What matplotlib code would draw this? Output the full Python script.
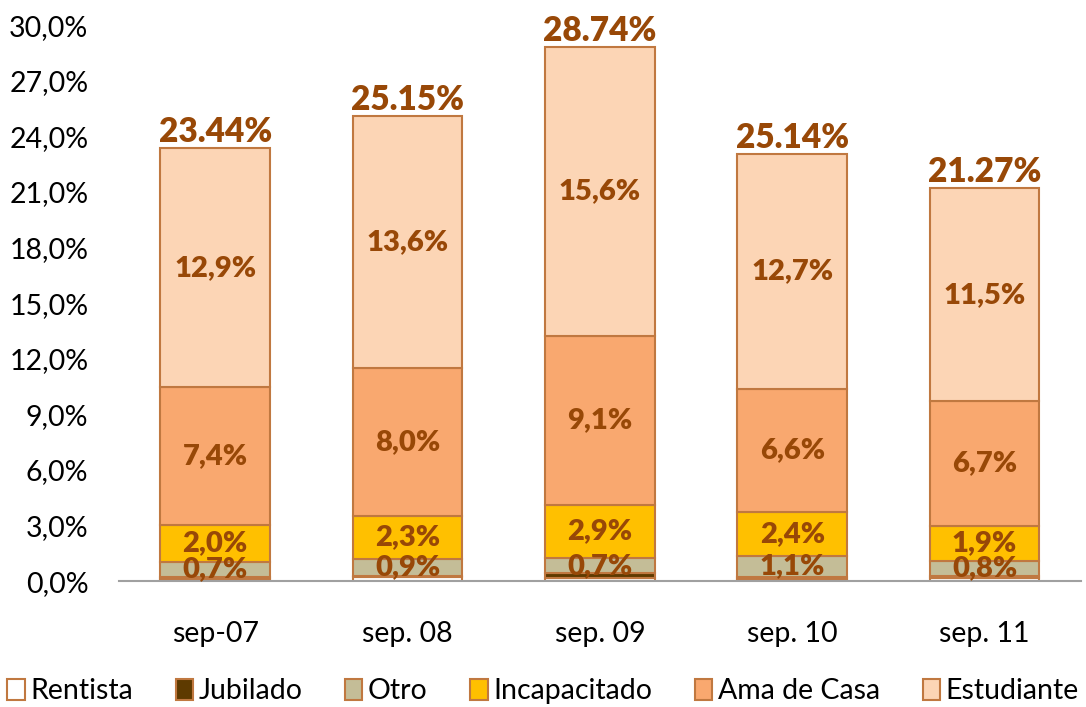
import matplotlib
matplotlib.use("Agg")
import matplotlib.pyplot as plt
import numpy as np

categories = ["sep-07", "sep. 08", "sep. 09", "sep. 10", "sep. 11"]
rentista = [0.10, 0.20, 0.15, 0.10, 0.15]
jubilado = [0.15, 0.10, 0.28, 0.15, 0.15]
otro = [0.8, 0.9, 0.8, 1.1, 0.8]
incapacitado = [2.0, 2.3, 2.9, 2.4, 1.9]
ama_de_casa = [7.4, 8.0, 9.1, 6.6, 6.7]
estudiante = [12.9, 13.6, 15.6, 12.7, 11.5]
otro_labels = ["0,7%", "0,9%", "0,7%", "1,1%", "0,8%"]
incap_labels = ["2,0%", "2,3%", "2,9%", "2,4%", "1,9%"]
ama_labels = ["7,4%", "8,0%", "9,1%", "6,6%", "6,7%"]
est_labels = ["12,9%", "13,6%", "15,6%", "12,7%", "11,5%"]
total_labels = ["23.44%", "25.15%", "28.74%", "25.14%", "21.27%"]
yticks = [0, 3, 6, 9, 12, 15, 18, 21, 24, 27, 30]

series = [
    ("Rentista", rentista, "#FFFFFF", None),
    ("Jubilado", jubilado, "#5E3A00", None),
    ("Otro", otro, "#C4BD97", otro_labels),
    ("Incapacitado", incapacitado, "#FFC000", incap_labels),
    ("Ama de Casa", ama_de_casa, "#F9A86F", ama_labels),
    ("Estudiante", estudiante, "#FCD5B5", est_labels),
]

plt.rcParams['font.family'] = ['Lato', 'DejaVu Sans']
label_color = "#984807"
edge_color = "#C07840"

fig = plt.figure(figsize=(10.86, 7.07), dpi=100)
ax = fig.add_axes([0.1096, 0.178, 0.8856, 0.7865])
x = np.arange(len(categories))
bottom = np.zeros(len(categories))
handles = []
for name, vals, color, labels in series:
    vals = np.array(vals)
    b = ax.bar(x, vals, width=0.57, bottom=bottom, color=color,
               edgecolor=edge_color, linewidth=1.5, label=name)
    handles.append(b)
    if labels is not None:
        for i in range(len(x)):
            ax.text(x[i], bottom[i] + vals[i] / 2, labels[i], ha='center', va='center',
                    fontsize=21, fontweight='heavy', color=label_color)
    bottom = bottom + vals

for i in range(len(x)):
    ax.text(x[i], bottom[i] + 0.0, total_labels[i], ha='center', va='bottom',
            fontsize=24, fontweight='heavy', color=label_color)

ax.set_xlim(-0.5, len(categories) - 0.5)
ax.set_ylim(0, 30)
ax.set_yticks(yticks)
ax.set_yticklabels([f"{v:.1f}%".replace('.', ',') for v in yticks], fontsize=20.5)
ax.set_xticks(x)
ax.set_xticklabels(categories, fontsize=20.5)
ax.tick_params(axis='both', length=0)
ax.tick_params(axis='x', pad=29)
ax.tick_params(axis='y', pad=22)
for s in ['top', 'right', 'left']:
    ax.spines[s].set_visible(False)
ax.spines['bottom'].set_color('#A0A0A0')
ax.spines['bottom'].set_linewidth(1.5)

fig.legend(handles=handles, labels=[s[0] for s in series], loc='center',
           bbox_to_anchor=(0.5, 0.022), ncol=6, frameon=False, fontsize=20.5,
           handlelength=0.6, handleheight=0.8, handletextpad=0.2, columnspacing=1.5)

fig.savefig("out.png", dpi=100)
